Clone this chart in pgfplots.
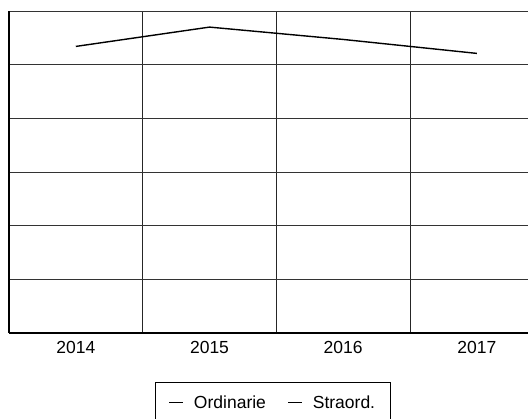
\documentclass[border=0pt]{standalone}
\usepackage{pgfplots}
\pgfplotsset{compat=1.18}
\usepackage{fontspec}
\setmainfont{Liberation Sans}
\begin{document}
\begin{tikzpicture}
\path[use as bounding box, clip] (0,0) rectangle (528pt,419pt);
\begin{axis}[
  at={(9pt,86pt)}, anchor=south west,
  scale only axis, width=528pt, height=322pt,
  xmin=-0.5, xmax=3.45, ymin=0, ymax=6,
  axis x line=bottom, axis y line=left,
  axis line style={-, black},
  x axis line style={line width=1.8pt},
  y axis line style={line width=1.1pt},
  xtick={0,1,2,3}, xticklabels={2014,2015,2016,2017},
  minor xtick={0.5,1.5,2.5}, xminorgrids,
  ytick={0,1,2,3,4,5,6}, yticklabels={}, ymajorgrids,
  major tick length=0pt, minor tick length=0pt,
  grid style={black!80, line width=0.8pt},
  minor grid style={black!85, line width=0.9pt},
  tick label style={font=\fontsize{17.5}{20}\selectfont},
  xticklabel style={yshift=-5pt},
  /pgf/number format/assume math mode=true,
  legend columns=2,
  legend style={at={(0.5,-0.152)}, anchor=north, draw=black, line width=1pt,
    font=\fontsize{17.5}{20}\selectfont, inner xsep=13pt, inner ysep=11pt,
    /tikz/every even column/.append style={column sep=20pt}},
  legend image code/.code={\draw[#1, line width=0.8pt] (0pt,0pt) -- (14pt,0pt); \path (22pt,0pt);},
]
\addplot[black, line width=1.4pt] coordinates {(0,5.34) (1,5.70) (2,5.47) (3,5.21)};
\addlegendentry{Ordinarie}
\addlegendimage{black}
\addlegendentry{Straord.}
\end{axis}
\end{tikzpicture}
\end{document}
